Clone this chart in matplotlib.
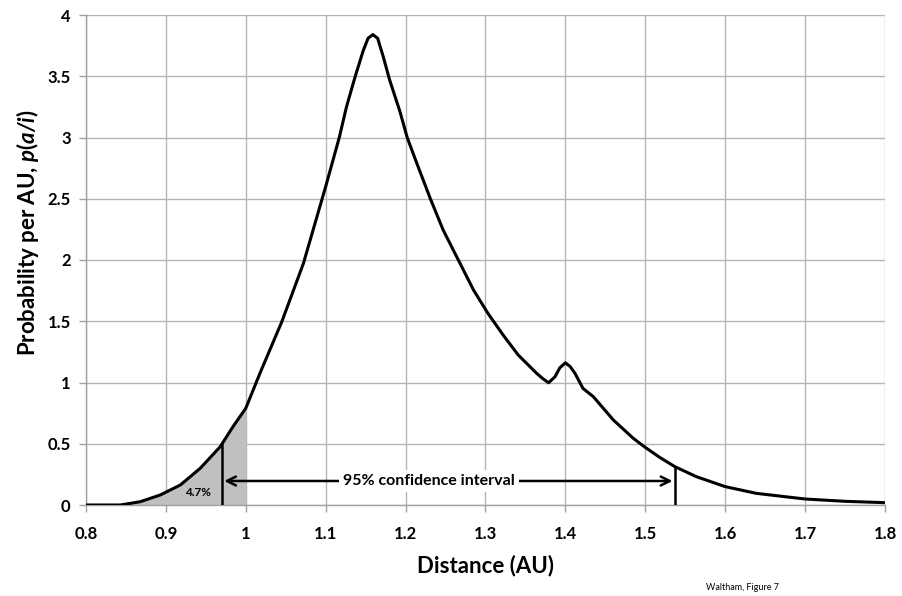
import numpy as np
import matplotlib
matplotlib.use("Agg")
import matplotlib.pyplot as plt

plt.rcParams["font.family"] = ["Lato", "DejaVu Sans"]
plt.rcParams["mathtext.fontset"] = "custom"
plt.rcParams["mathtext.bfit"] = "Lato:bold:italic"
plt.rcParams["mathtext.it"] = "Lato:italic"
plt.rcParams["mathtext.bf"] = "Lato:bold"
plt.rcParams["mathtext.rm"] = "Lato"

# curve
distance = [0.800, 0.843, 0.868, 0.893, 0.918, 0.943, 0.968, 0.984, 1.000, 1.018,
            1.045, 1.072, 1.088, 1.100, 1.117, 1.126, 1.137, 1.147, 1.153, 1.159,
            1.165, 1.172, 1.180, 1.193, 1.202, 1.214, 1.231, 1.247, 1.266, 1.285,
            1.303, 1.322, 1.341, 1.364, 1.372, 1.379, 1.387, 1.393, 1.400, 1.406,
            1.412, 1.422, 1.435, 1.460, 1.485, 1.500, 1.518, 1.537, 1.564, 1.600,
            1.639, 1.700, 1.750, 1.800]
prob = [0.0, 0.0, 0.027, 0.082, 0.163, 0.30, 0.476, 0.64, 0.79, 1.08,
        1.495, 1.97, 2.33, 2.60, 3.0, 3.25, 3.5, 3.71, 3.81, 3.84,
        3.81, 3.66, 3.47, 3.21, 3.0, 2.79, 2.50, 2.245, 2.0, 1.755,
        1.565, 1.388, 1.224, 1.075, 1.03, 0.998, 1.047, 1.12, 1.161, 1.13,
        1.075, 0.952, 0.884, 0.694, 0.544, 0.47, 0.389, 0.313, 0.231, 0.15,
        0.095, 0.049, 0.03, 0.019]

ci_low = 0.97
ci_high = 1.537
ci_low_p = 0.49
ci_high_p = 0.313
shade_end = 1.0
tail_label = "4.7%"
ci_label = "95% confidence interval"

x_ticks = [0.8, 0.9, 1.0, 1.1, 1.2, 1.3, 1.4, 1.5, 1.6, 1.7, 1.8]
x_labels = ["0.8", "0.9", "1", "1.1", "1.2", "1.3", "1.4", "1.5", "1.6", "1.7", "1.8"]
y_ticks = [0, 0.5, 1, 1.5, 2, 2.5, 3, 3.5, 4]
y_labels = ["0", "0.5", "1", "1.5", "2", "2.5", "3", "3.5", "4"]

fig = plt.figure(figsize=(9.03, 5.96), dpi=100)
ax = fig.add_axes([86 / 903, 1 - 505 / 596, (885 - 86) / 903, (505 - 15) / 596])

x = np.array(distance)
y = np.array(prob)

# shaded tail below 1 AU
mask = x <= shade_end
ax.fill_between(x[mask], 0, y[mask], color="#c0c0c0", zorder=2, linewidth=0)

ax.plot(x, y, color="black", lw=2.2, zorder=4, solid_joinstyle="round")

ax.plot([ci_low, ci_low], [0, ci_low_p], color="black", lw=1.8, zorder=4)
ax.plot([ci_high, ci_high], [0, ci_high_p], color="black", lw=1.8, zorder=4)

ax.annotate("", xy=(ci_low + 0.003, 0.196), xytext=(ci_high - 0.003, 0.196),
            arrowprops=dict(arrowstyle="<->", lw=1.8, color="black",
                            mutation_scale=16, shrinkA=0, shrinkB=0),
            zorder=5)
ax.text(1.229, 0.196, ci_label, ha="center", va="center", fontsize=11.5,
        fontweight="bold", zorder=6,
        bbox=dict(facecolor="white", edgecolor="none", pad=3))
ax.text(0.94, 0.10, tail_label, ha="center", va="center", fontsize=8.5,
        fontweight="bold", zorder=6)

ax.set_xlim(0.8, 1.8)
ax.set_ylim(0, 4)
ax.set_xticks(x_ticks)
ax.set_xticklabels(x_labels)
ax.set_yticks(y_ticks)
ax.set_yticklabels(y_labels)
for lab in ax.get_xticklabels() + ax.get_yticklabels():
    lab.set_fontweight("bold")
    lab.set_fontsize(12)

ax.grid(True, color="#b4b4b4", lw=1.0, zorder=0)
ax.set_axisbelow(True)
for s in ["top", "right"]:
    ax.spines[s].set_visible(False)
for s in ["left", "bottom"]:
    ax.spines[s].set_color("#a0a0a0")
    ax.spines[s].set_linewidth(1.0)
ax.tick_params(axis="both", direction="out", length=5, width=1.0, color="#a0a0a0")
ax.tick_params(axis="x", pad=10)
ax.tick_params(axis="y", pad=6)

ax.set_xlabel("Distance (AU)", fontsize=16, fontweight="bold", labelpad=9)
ax.set_ylabel(r"Probability per AU, $\mathbfit{p}$($\mathbfit{a/i}$)",
              fontsize=16, fontweight="bold")
ax.yaxis.set_label_coords(-0.056, 0.555)

fig.text(743 / 903, 1 - 587 / 596, "Waltham, Figure 7", ha="center", va="center",
         fontsize=6.5)

fig.savefig("out.png", dpi=100)
plt.close(fig)
